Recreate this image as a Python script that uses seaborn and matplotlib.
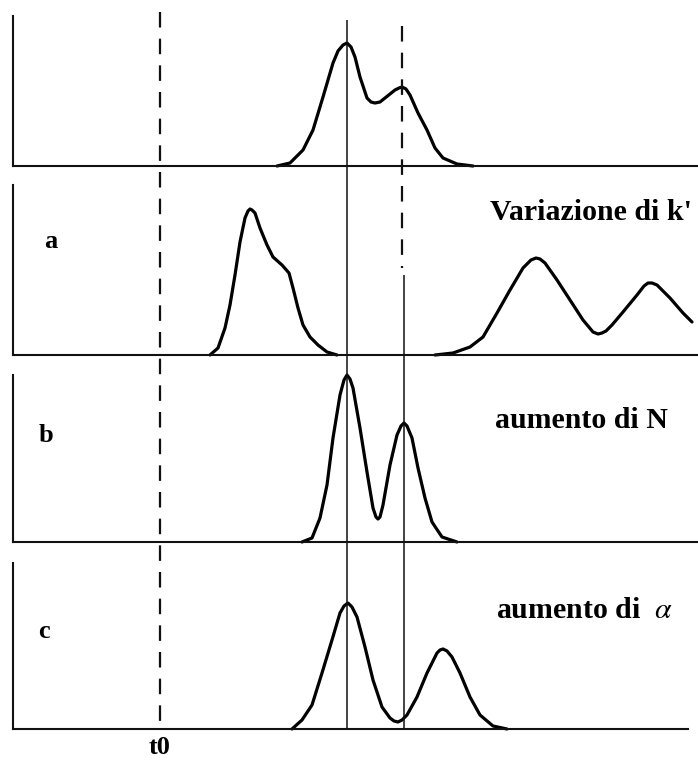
import numpy as np
import pandas as pd
import seaborn as sns
import matplotlib
matplotlib.use("Agg")
import matplotlib.pyplot as plt

# ---------------- data (x in retention-time units, y = detector signal) -------------
t0 = 160
ref_main = 347          # retention of first peak (solid reference)
ref_second = 404        # retention of second peak (dashed, then solid)

top_x = [277, 290, 303, 313, 323, 333, 338, 343, 347, 351, 355, 360, 367, 371, 375, 380, 385, 395, 399, 402, 406, 410, 418, 427, 435, 443, 457, 473]
top_y = [0, 3, 16, 36, 69, 103, 115, 121, 123, 119, 109, 89, 68, 64, 63, 64, 68, 76, 78, 79, 77, 71, 53, 36, 18, 8, 2, 0]

a1_x = [210, 218, 225, 230, 235, 240, 245, 248, 250, 252, 255, 260, 267, 273, 282, 289, 293, 298, 303, 310, 318, 327, 337]
a1_y = [0, 7, 27, 50, 80, 113, 137, 144, 146, 145, 142, 127, 110, 98, 90, 82, 67, 47, 30, 18, 10, 3, 0]

a2_x = [435, 453, 470, 483, 497, 510, 523, 531, 536, 540, 545, 557, 570, 583, 593, 598, 602, 606, 612, 623, 637, 644, 648, 652, 657, 670, 683, 692]
a2_y = [0, 2, 8, 18, 42, 65, 87, 95, 97, 96, 92, 75, 55, 35, 23, 21, 22, 24, 30, 43, 60, 69, 72, 72, 70, 57, 42, 33]

b_x = [302, 312, 320, 327, 333, 340, 344, 347, 350, 353, 360, 367, 373, 376, 378, 380, 383, 390, 397, 401, 404, 407, 412, 418, 425, 432, 442, 457]
b_y = [0, 4, 24, 57, 104, 147, 162, 167, 163, 154, 114, 70, 34, 25, 23, 25, 37, 77, 107, 116, 119, 116, 104, 74, 44, 20, 5, 0]

c_x = [292, 302, 312, 322, 332, 340, 344, 348, 352, 357, 365, 373, 382, 390, 394, 398, 402, 407, 417, 427, 437, 440, 443, 447, 452, 460, 470, 480, 493, 507]
c_y = [0, 9, 24, 56, 89, 116, 123, 126, 122, 112, 82, 49, 22, 11, 8, 7, 9, 14, 32, 56, 76, 79, 80, 78, 72, 56, 32, 14, 3, 0]

panel_letters = ["", "a", "b", "c"]
panel_titles = ["", "Variazione di k'", "aumento di N", r"aumento di  $\alpha$"]
t0_label = "t0"

# ---------------- figure -------------------------------------------------------------
sns.set_style("white")
plt.rcParams["font.family"] = ["Liberation Serif", "DejaVu Serif"]
plt.rcParams["mathtext.fontset"] = "stix"
plt.rcParams["text.color"] = "black"

W, H = 698, 760
fig = plt.figure(figsize=(W / 100, H / 100), dpi=100)
fig.patch.set_facecolor("white")

# panel geometry in pixels: (top, bottom, left, right)
panels = [(16, 166, 13, 698), (185, 355, 13, 698), (375, 542, 13, 698), (563, 729, 13, 688)]

curves = [
    [(top_x, top_y)],
    [(a1_x, a1_y), (a2_x, a2_y)],
    [(b_x, b_y)],
    [(c_x, c_y)],
]

axes = []
for (T, B, L, R), segs in zip(panels, curves):
    ax = fig.add_axes([L / W, (H - B) / H, (R - L) / W, (B - T) / H])
    ax.set_facecolor("none")
    frames = []
    for k, (xs, ys) in enumerate(segs):
        frames.append(pd.DataFrame({"t": xs, "signal": ys, "seg": k}))
    df = pd.concat(frames, ignore_index=True)
    sns.lineplot(data=df, x="t", y="signal", units="seg", estimator=None,
                 color="black", linewidth=2.3, ax=ax, legend=False, clip_on=False,
                 solid_joinstyle="round", solid_capstyle="round")
    ax.set_xlim(L, R)
    ax.set_ylim(0, B - T)
    ax.set_xticks([])
    ax.set_yticks([])
    ax.set_xlabel("")
    ax.set_ylabel("")
    for s in ["top", "right"]:
        ax.spines[s].set_visible(False)
    for s in ["left", "bottom"]:
        ax.spines[s].set_visible(True)
        ax.spines[s].set_color("#111111")
        ax.spines[s].set_linewidth(1.5)
    axes.append(ax)

# overlay axes in pixel coordinates for reference lines and labels
ov = fig.add_axes([0, 0, 1, 1])
ov.set_xlim(0, W)
ov.set_ylim(H, 0)
ov.axis("off")

dash = (0, (7.0, 5.0))
ov.vlines(t0, 12, 729, colors="#111111", linewidth=1.6, linestyles=[dash])
ov.vlines(ref_main, 20, 729, colors="#111111", linewidth=1.1)
ov.vlines(ref_second - 2, 26, 268, colors="#111111", linewidth=1.6, linestyles=[dash])
ov.vlines(ref_second, 275, 729, colors="#111111", linewidth=1.1)

fs = 21.5
ov.text(490, 213, panel_titles[1], fontsize=fs, fontweight="bold", ha="left", va="center")
ov.text(495, 421, panel_titles[2], fontsize=fs, fontweight="bold", ha="left", va="center")
ov.text(496, 611, panel_titles[3], fontsize=fs, fontweight="bold", ha="left", va="center")

ov.text(51, 241, panel_letters[1], fontsize=19, fontweight="bold", ha="center", va="center")
ov.text(46, 436, panel_letters[2], fontsize=19, fontweight="bold", ha="center", va="center")
ov.text(44, 631, panel_letters[3], fontsize=19, fontweight="bold", ha="center", va="center")

ov.text(t0, 747, t0_label, fontsize=19, fontweight="bold", ha="center", va="center")

fig.savefig("out.png", dpi=100, facecolor="white")
